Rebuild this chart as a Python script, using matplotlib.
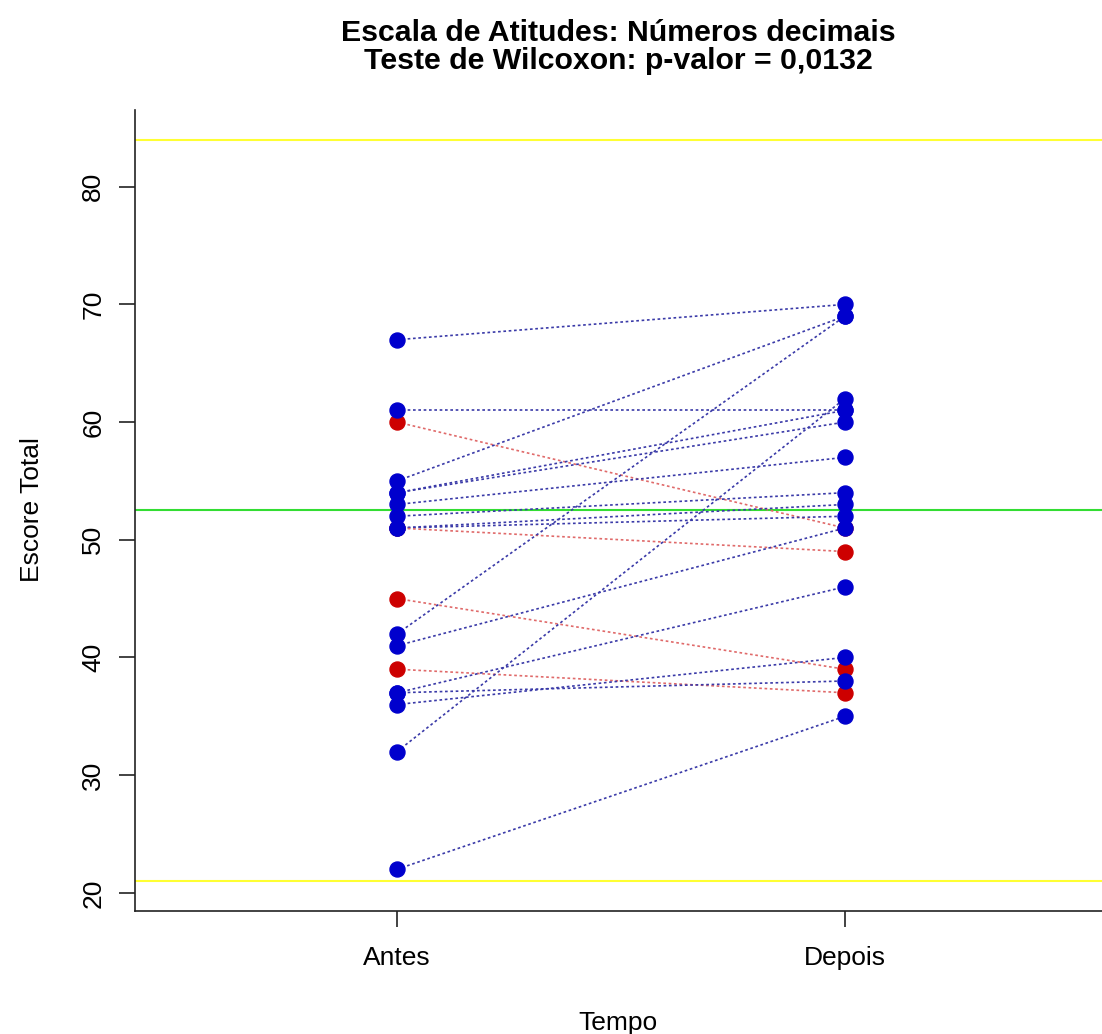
import matplotlib
matplotlib.use("Agg")
import matplotlib.pyplot as plt

# ---- data ----
groups = ["Antes", "Depois"]
antes = [67, 61, 60, 55, 54, 54, 53, 52, 51, 51, 51, 45, 42, 41, 39, 37, 37, 36, 32, 22]
depois = [70, 61, 51, 69, 61, 60, 57, 54, 53, 52, 49, 39, 69, 51, 37, 46, 38, 40, 62, 35]
yticks = [20, 30, 40, 50, 60, 70, 80]
scale_min, scale_max = 21, 84
scale_mid = 52.5
title1 = "Escala de Atitudes: Números decimais"
title2 = "Teste de Wilcoxon: p-valor = 0,0132"

plt.rcParams['font.family'] = ['Liberation Sans', 'DejaVu Sans']

W, H = 1102, 1034
fig = plt.figure(figsize=(W / 100, H / 100), dpi=100)
left_px, right_px, top_px, bottom_px = 135, 1107, 110, 910.7
ax = fig.add_axes([left_px / W, (H - bottom_px) / H,
                   (right_px - left_px) / W, (bottom_px - top_px) / H])
ax.set_xlim(0.415, 2.585)
ax.set_ylim(18.48, 86.52)

# reference lines
ax.axhline(scale_max, color='#ffff33', lw=1.5, zorder=1)
ax.axhline(scale_min, color='#ffff33', lw=1.5, zorder=1)
ax.axhline(scale_mid, color='#33dd33', lw=1.5, zorder=1)

blue_pt = '#0000CD'
red_pt = '#CD0000'
blue_ln = '#3a3aa8'
red_ln = '#e06a6a'

xs = [1, 2]
for a, d in zip(antes, depois):
    dec = d < a
    ax.plot(xs, [a, d], linestyle=(0, (1.6, 1.6)), lw=1.2,
            color=red_ln if dec else blue_ln, zorder=2)

# points: red first, blue on top
for a, d in zip(antes, depois):
    if d < a:
        ax.plot(xs, [a, d], 'o', ms=10.8, color=red_pt, mec=red_pt, zorder=3, lw=0)
for a, d in zip(antes, depois):
    if d >= a:
        ax.plot(xs, [a, d], 'o', ms=10.8, color=blue_pt, mec=blue_pt, zorder=4, lw=0)

# axes styling (R bty="l")
for s in ['top', 'right']:
    ax.spines[s].set_visible(False)
for s in ['left', 'bottom']:
    ax.spines[s].set_linewidth(1.2)
    ax.spines[s].set_color('#222222')

ax.set_xticks(xs)
ax.set_xticklabels(groups, fontsize=19)
ax.set_yticks(yticks)
ax.set_yticklabels([str(v) for v in yticks], fontsize=19, rotation=90, va='center')
ax.tick_params(axis='both', length=11.5, width=1.2, color='#222222')
ax.tick_params(axis='x', pad=14)
ax.tick_params(axis='y', pad=10)

fig.text(32 / W, 1 - 510 / H, "Escore Total", rotation=90,
         ha='center', va='center', fontsize=19)
fig.text(618 / W, 1 - 1023 / H, "Tempo", ha='center', va='center', fontsize=19)

fig.text(618 / W, 1 - 33 / H, title1, ha='center', va='center',
         fontsize=21.8, fontweight='bold')
fig.text(618 / W, 1 - 60.5 / H, title2, ha='center', va='center',
         fontsize=21.8, fontweight='bold')

fig.savefig("out.png", dpi=100, facecolor='white')
